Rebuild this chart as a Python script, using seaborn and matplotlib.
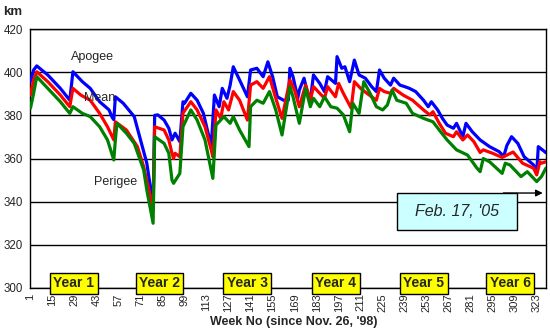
import numpy as np
import pandas as pd
import matplotlib
matplotlib.use("Agg")
import matplotlib.pyplot as plt
import seaborn as sns
from matplotlib.patches import Rectangle

# ---- data (week number, km) ----
apogee_weeks = [1, 3, 5, 12, 20, 26, 28, 34, 39, 45, 51, 53, 54, 55, 60, 67, 71, 75, 79, 80,
                82, 86, 89, 91, 93, 96, 98, 99, 103, 107, 111, 114, 116, 118, 121, 123, 126, 128, 130,
                134, 139, 141, 145, 149, 152, 155, 158, 162, 165, 166, 168, 171, 172, 175, 177, 179,
                181, 185, 188, 190, 195, 196, 199, 201, 204, 207, 210, 214, 218, 221, 223, 226, 230,
                232, 236, 239, 242, 246, 251, 254, 256, 260, 263, 266, 270, 272, 276, 278, 282, 287,
                293, 299, 302, 304, 307, 311, 315, 321, 323, 324, 328, 328.8]
apogee_km = [395.6, 401, 402.9, 398.7, 392.5, 387, 400.2, 395.6, 392.5, 386.3, 382.5, 379, 378, 388.6,
             385.6, 379.4, 368.6, 357.8, 338.4, 380, 380.2, 377.8, 374, 368.6, 371.7, 367.8, 386.3,
             385.6, 390.2, 387, 380.9, 371.7, 366.2, 389.4, 384, 392.5, 387.9, 394, 402.5, 396.4,
             388.6, 401, 401.8, 397.9, 404.8, 397.9, 388.6, 387, 387, 401.8, 397.9, 387.9, 391.7,
             397.2, 391, 387, 398.7, 394.8, 391, 397.9, 394.8, 407.2, 401.8, 402.5, 395.6, 405.6,
             398.7, 397.2, 393.3, 391, 401, 397.2, 394, 397.2, 394, 393.3, 392.5, 391, 387, 384,
             386.3, 382.5, 378.6, 375.5, 374, 376.3, 370.1, 376.3, 372.4, 368.6, 365.5, 363.2, 361,
             366, 370.1, 367, 360.8, 357, 353.5, 365.5, 363.2, 362.7]

mean_weeks = [1, 3, 5, 12, 20, 26, 28, 33, 39, 45, 50, 54, 55, 62, 69, 73, 79, 80, 86, 89, 91, 92,
              93, 96, 98, 103, 107, 112, 116, 117, 119, 122, 124, 127, 130, 134, 139, 141, 145, 149,
              153, 157, 161, 166, 169, 172, 176, 179, 181, 185, 188, 190, 195, 197, 200, 205, 207,
              211, 215, 221, 223, 226, 230, 232, 238, 244, 251, 255, 257, 261, 265, 270, 272, 276,
              279, 283, 287, 289, 295, 301, 308, 314, 321, 323, 325, 326, 328.8]
mean_km = [389.4, 396.4, 400.2, 395.6, 389.4, 384, 392.5, 389.4, 387, 380.9, 374.7, 368.6, 377,
           373.2, 365.5, 356.2, 336.4, 374.7, 373.2, 368.6, 362.4, 360, 362.4, 360.8, 381, 386.3,
           382.5, 374.7, 363.9, 360.8, 382.5, 378.6, 386.3, 382.5, 391, 387, 377.8, 394, 395.6,
           392.5, 397.9, 388, 378.6, 396.4, 391.7, 384, 394, 387, 393.3, 390.2, 387.9, 393.3,
           388.6, 394.8, 390.2, 383.3, 395.6, 392.5, 390.2, 387, 392.5, 391, 390.2, 392.5, 389.4,
           387, 382.5, 380.2, 381.7, 376.3, 371.7, 370.1, 372.4, 368.6, 370.9, 367.8, 362.8, 364,
           362.4, 360.5, 363, 357.8, 355.5, 352.4, 358.5, 357.8, 358.5]

perigee_weeks = [1, 3, 5, 12, 20, 26, 28, 34, 39, 45, 50, 54, 55, 56, 62, 67, 73, 75, 79, 80, 86,
                 89, 91, 92, 96, 98, 103, 107, 112, 117, 119, 124, 128, 130, 134, 140, 141, 145, 149,
                 153, 157, 161, 163, 166, 168, 172, 176, 179, 181, 185, 188, 192, 196, 200, 204, 206,
                 210, 213, 217, 221, 225, 228, 231, 234, 240, 244, 251, 257, 261, 266, 272, 279, 285,
                 287, 289, 293, 301, 303, 306, 313, 317, 323, 326, 328.8]
perigee_km = [383.3, 390.2, 397.9, 392.5, 386.3, 380.9, 384, 380.9, 379.4, 374.7, 368.6, 359.3,
              368.6, 376.3, 371.7, 367, 354.7, 345.4, 330, 370.1, 367, 362.4, 350, 348.5, 353.1,
              374.7, 382.5, 377.8, 368.6, 350.8, 375.5, 379.4, 376.3, 379.4, 373.2, 365.5, 384, 387,
              385.6, 391, 382.5, 370.9, 380, 393.3, 388.6, 376.3, 392.5, 384, 387.9, 384, 388.6, 384,
              383.3, 380.2, 372.4, 385.6, 380.9, 395.6, 390.2, 384, 382.5, 384.8, 391.7, 387, 385.6,
              380.9, 378.6, 377, 373.2, 368.6, 364, 361.6, 355.5, 353.9, 360, 358.5, 353.1, 357.8,
              357, 351.6, 353.9, 349.3, 351.6, 355.5]

series_names = ["Apogee", "Mean", "Perigee"]
series_colors = ["#0000ff", "#ff0000", "#008000"]
tick_weeks = list(range(1, 324, 14))
year_labels = ["Year 1", "Year 2", "Year 3", "Year 4", "Year 5", "Year 6"]
year_weeks = [28.5, 83.1, 138.9, 195.1, 251.3, 306.2]
y_ticks = [300, 320, 340, 360, 380, 400, 420]

df = pd.concat([
    pd.DataFrame({"week": apogee_weeks, "km": apogee_km, "series": "Apogee"}),
    pd.DataFrame({"week": mean_weeks, "km": mean_km, "series": "Mean"}),
    pd.DataFrame({"week": perigee_weeks, "km": perigee_km, "series": "Perigee"}),
], ignore_index=True)

sns.set_style("white")
plt.rcParams["font.family"] = ["Liberation Sans", "DejaVu Sans"]

fig = plt.figure(figsize=(5.5, 3.35), dpi=100)
ax = fig.add_axes([30 / 550, 1 - 288 / 335, 516 / 550, 259 / 335])

sns.lineplot(data=df, x="week", y="km", hue="series", hue_order=series_names,
             palette=dict(zip(series_names, series_colors)), estimator=None, sort=False,
             legend=False, linewidth=2.3, ax=ax, zorder=3)

ax.set_xlim(0.7, 328.9)
ax.set_ylim(300, 420)
ax.set_yticks(y_ticks)
ax.set_yticklabels([str(v) for v in y_ticks], fontsize=8.3)
ax.set_xticks(tick_weeks)
ax.set_xticklabels([str(v) for v in tick_weeks], rotation=90, fontsize=8)
ax.set_xticks(np.arange(1, 329), minor=True)
ax.tick_params(axis="x", which="both", direction="inout", length=4, width=1, color="black", pad=2)
ax.tick_params(axis="y", which="major", direction="out", length=3, width=1, color="black", pad=2)
for s in ax.spines.values():
    s.set_color("black")
    s.set_linewidth(1)
ax.grid(axis="y", color="black", linewidth=1)
ax.set_axisbelow(True)
ax.set_xlabel("")
ax.set_ylabel("")

fig.text(3 / 550, 1 - 12 / 335, "km", fontsize=9.5, fontweight="bold", va="center", ha="left")
fig.text(293.5 / 550, 1 - 322 / 335, "Week No (since Nov. 26, '98)", fontsize=9,
         fontweight="bold", ha="center", va="center")

ax.text(40.7, 406.8, "Apogee", fontsize=9, ha="center", va="center", zorder=5)
ax.text(44.8, 388, "Mean", fontsize=9, ha="center", va="center", zorder=5)
ax.text(55, 348.9, "Perigee", fontsize=9, ha="center", va="center", zorder=5)

# year boxes
for lab, wk in zip(year_labels, year_weeks):
    ax.text(wk, 302.3, lab, fontsize=10, fontweight="bold", ha="center", va="center",
            zorder=6, clip_on=False,
            bbox=dict(boxstyle="square,pad=0.25", facecolor="#ffff00", edgecolor="black",
                      linewidth=1))

# Feb. 17 annotation
ax.annotate("", xy=(328.6, 344), xytext=(300, 344),
            arrowprops=dict(arrowstyle="-|>", color="black", lw=1, mutation_scale=10),
            zorder=5, annotation_clip=False)
ax.add_patch(Rectangle((234, 327.0), 76.2, 17.0, facecolor="#ccffff", edgecolor="black",
                       linewidth=1, zorder=6))
ax.text(272, 335.5, "Feb. 17, '05", fontsize=11.5, style="italic", ha="center", va="center",
        zorder=7)

fig.savefig("out.png", dpi=100)
